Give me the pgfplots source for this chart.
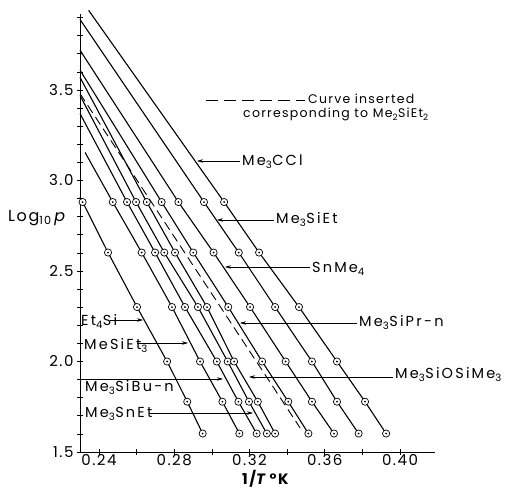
\documentclass[border=0pt]{standalone}
\usepackage{pgfplots}
\pgfplotsset{compat=1.18}
\usetikzlibrary{arrows.meta}
\usepackage{fontspec}
\setmainfont{Poppins}[LetterSpace=10]
\newfontfamily\labfam{Poppins}[LetterSpace=15]

% circle with a dot in the middle
\pgfdeclareplotmark{odot}{%
  \pgfpathcircle{\pgfpointorigin}{\pgfplotmarksize}%
  \pgfsetfillcolor{white}%
  \pgfusepathqfillstroke
  \pgfpathcircle{\pgfpointorigin}{0.28\pgfplotmarksize}%
  \pgfsetfillcolor{black}%
  \pgfusepathqfill
}

\newcommand\lab{\labfam\fontsize{14.5bp}{16bp}\selectfont}
\newcommand\ticklab{\fontsize{15bp}{17bp}\selectfont}
\newcommand\legfont{\fontsize{12.5bp}{14bp}\selectfont}

\begin{document}
\begin{tikzpicture}
\begin{scope}[x=1bp,y=-1bp,shift={(-80bp,452bp)}]
  \useasboundingbox (0,0) rectangle (511,489);
\end{scope}
\begin{axis}[
    scale only axis,
    width=355bp, height=438bp,
    at={(0,0)}, anchor=south west,
    xmin=0.2299, xmax=0.4186,
    ymin=1.5, ymax=3.92,
    axis lines=left,
    axis line style={-, line width=0.9bp},
    clip=false,
    xtick={0.24,0.28,0.32,0.36,0.40},
    minor xtick={0.26,0.30,0.34,0.38},
    ytick={1.5,2.0,2.5,3.0,3.5},
    minor ytick={1.6,1.7,1.8,1.9,2.1,2.2,2.3,2.4,2.6,2.7,2.8,2.9,3.1,3.2,3.3,3.4,3.6,3.7,3.8,3.9},
    major tick length=6bp, minor tick length=6bp,
    tick style={black, line width=0.7bp},
    /pgf/number format/assume math mode=true,
    x tick label style={/pgf/number format/.cd, fixed, fixed zerofill, precision=2, /tikz/.cd, font=\ticklab, yshift=4bp},
    y tick label style={/pgf/number format/.cd, fixed, fixed zerofill, precision=1, /tikz/.cd, font=\ticklab},
    ln/.style={black, line width=1.1bp, mark=none},
    pt/.style={only marks, mark=odot, mark size=3.6bp, mark options={black, line width=0.7bp}},
]
% lines (first point: where the ruled line starts at the top)
\addplot[ln] coordinates {(0.2299,2.91) (0.2313,2.881) (0.2448,2.602) (0.2602,2.301) (0.2762,2.000) (0.2869,1.778) (0.2951,1.602)}; % Et4Si
\addplot[ln] coordinates {(0.2326,3.155) (0.2473,2.881) (0.2627,2.602) (0.2788,2.301) (0.2937,2.000) (0.3056,1.778) (0.3146,1.602)}; % MeSiEt3
\addplot[ln] coordinates {(0.2299,3.37) (0.2549,2.881) (0.2698,2.602) (0.2857,2.301) (0.3026,2.000) (0.3141,1.778) (0.3238,1.602)}; % Me3SiBu-n
\addplot[ln] coordinates {(0.2299,3.47) (0.2597,2.881) (0.2747,2.602) (0.2926,2.301) (0.3084,2.000) (0.3197,1.778) (0.3292,1.602)}; % Me3SnEt
\addplot[ln] coordinates {(0.2299,3.57) (0.2654,2.881) (0.2804,2.602) (0.2974,2.301) (0.3118,2.000) (0.3244,1.778) (0.3336,1.602)}; % Me3SiOSiMe3
\addplot[ln] coordinates {(0.2299,3.61) (0.2733,2.881) (0.2901,2.602) (0.3087,2.301) (0.3267,2.000) (0.3406,1.778) (0.3513,1.602)}; % Me3SiPr-n
\addplot[ln] coordinates {(0.2299,3.72) (0.2822,2.881) (0.3009,2.602) (0.3203,2.301) (0.3392,2.000) (0.3532,1.778) (0.3649,1.602)}; % SnMe4
\addplot[ln] coordinates {(0.2299,3.89) (0.2958,2.881) (0.3143,2.602) (0.3336,2.301) (0.3532,2.000) (0.3665,1.778) (0.3780,1.602)}; % Me3SiEt
\addplot[ln] coordinates {(0.2345,3.94) (0.3065,2.881) (0.3251,2.602) (0.3463,2.301) (0.3665,2.000) (0.3814,1.778) (0.3926,1.602)}; % Me3CCl
% Me2SiEt2, inserted
\addplot[ln, line width=0.9bp, dash pattern=on 9bp off 5bp] coordinates {(0.2299,3.48) (0.3469,1.633)};

% measured points
\addplot[pt] coordinates {(0.2313,2.881) (0.2448,2.602) (0.2602,2.301) (0.2762,2.000) (0.2869,1.778) (0.2951,1.602)};
\addplot[pt] coordinates {(0.2473,2.881) (0.2627,2.602) (0.2788,2.301) (0.2937,2.000) (0.3056,1.778) (0.3146,1.602)};
\addplot[pt] coordinates {(0.2549,2.881) (0.2698,2.602) (0.2857,2.301) (0.3026,2.000) (0.3141,1.778) (0.3238,1.602)};
\addplot[pt] coordinates {(0.2597,2.881) (0.2747,2.602) (0.2926,2.301) (0.3084,2.000) (0.3197,1.778) (0.3292,1.602)};
\addplot[pt] coordinates {(0.2654,2.881) (0.2804,2.602) (0.2974,2.301) (0.3118,2.000) (0.3244,1.778) (0.3336,1.602)};
\addplot[pt] coordinates {(0.2733,2.881) (0.2901,2.602) (0.3087,2.301) (0.3267,2.000) (0.3406,1.778) (0.3513,1.602)};
\addplot[pt] coordinates {(0.2822,2.881) (0.3009,2.602) (0.3203,2.301) (0.3392,2.000) (0.3532,1.778) (0.3649,1.602)};
\addplot[pt] coordinates {(0.2958,2.881) (0.3143,2.602) (0.3336,2.301) (0.3532,2.000) (0.3665,1.778) (0.3780,1.602)};
\addplot[pt] coordinates {(0.3065,2.881) (0.3251,2.602) (0.3463,2.301) (0.3665,2.000) (0.3814,1.778) (0.3926,1.602)};
\end{axis}

% labels and arrows, in pixel-like units of the picture
\begin{scope}[x=1bp,y=-1bp,shift={(-80bp,452bp)},
    arr/.style={line width=0.6bp, -{Stealth[length=6bp,width=3.5bp]}},
    every node/.style={inner sep=0pt, anchor=base west}]
  \draw[line width=0.9bp, dash pattern=on 12bp off 6bp] (206,100) -- (305,100);
  \node at (308,104) {\legfont Curve inserted};
  \node at (243,118) {\legfont corresponding to Me\textsubscript{2}SiEt\textsubscript{2}};

  \draw[arr] (240,161) -- (197,161);
  \node at (242,166) {\lab Me\textsubscript{3}CCl};
  \draw[arr] (274,220) -- (217,220);
  \node at (276,224) {\lab Me\textsubscript{3}SiEt};
  \draw[arr] (310,267) -- (225,267);
  \node at (312,273) {\lab SnMe\textsubscript{4}};
  \draw[arr] (357,323) -- (240,323);
  \node at (359,327) {\lab Me\textsubscript{3}SiPr\,-n};
  \draw[arr] (393,377) -- (249,377);
  \node at (395,379) {\lab Me\textsubscript{3}SiOSiMe\textsubscript{3}};

  \node at (81,326) {\lab Et\textsubscript{4}Si};
  \draw[arr] (110,320) -- (143,320);
  \node at (84,350) {\lab MeSiEt\textsubscript{3}};
  \draw[arr] (137,343) -- (188,343);
  \draw[arr] (80,379) -- (223,379);
  \node at (85,392) {\lab Me\textsubscript{3}SiBu-n};
  \node at (85,418) {\lab Me\textsubscript{3}SnEt};
  \draw[arr] (149,413) -- (253,413);

  \node at (8,222) {\fontsize{16bp}{18bp}\selectfont Log\textsubscript{10}\,\textit{p}};
  \node at (242,484) {\fontsize{15bp}{17bp}\selectfont\bfseries 1/\textit{T}\,°K};
\end{scope}
\end{tikzpicture}
\end{document}
